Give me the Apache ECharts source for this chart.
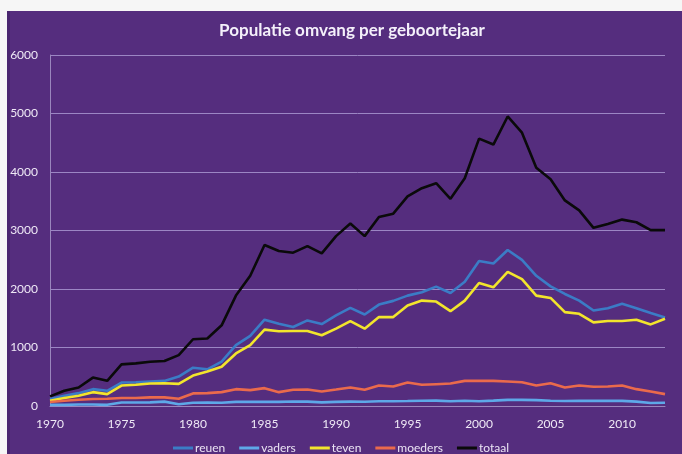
<!DOCTYPE html>
<html>
<head>
<meta charset="utf-8">
<script src="https://cdn.jsdelivr.net/npm/echarts@6/dist/echarts.min.js"></script>
<style>
html,body{margin:0;padding:0;background:#f6f6f6;}
#c{width:682px;height:454px;}
</style>
</head>
<body>
<div id="c"></div>
<script>
var years = [];
for (var y = 1970; y <= 2013; y++) years.push(String(y));

var reuen = [119,175,220,288,260,401,407,418,429,503,
  655,627,757,1040,1198,1475,1407,1350,1463,1401,
  1548,1678,1565,1734,1797,1887,1944,2040,1932,2124,
  2480,2435,2667,2497,2226,2045,1915,1802,1633,1672,
  1746,1672,1588,1514];
var vaders = [20,20,25,25,20,60,60,62,75,30,
  55,58,55,70,70,72,70,78,75,62,
  70,75,72,80,82,85,90,92,80,90,
  80,92,105,105,100,90,85,90,88,88,
  88,75,50,55];
var teven = [90,136,175,237,203,350,362,384,390,378,
  520,588,672,898,1040,1305,1277,1282,1282,1209,
  1322,1452,1322,1520,1520,1718,1802,1785,1621,1802,
  2102,2028,2294,2169,1887,1847,1605,1576,1429,1452,
  1452,1475,1395,1492];
var moeders = [68,90,107,119,124,136,136,147,147,124,
  215,220,237,288,271,305,237,277,282,249,
  282,316,277,350,333,401,362,373,384,429,
  429,429,418,407,350,390,316,350,328,333,
  350,288,249,203];
var totaal = [164,260,316,486,430,712,729,757,768,870,
  1141,1153,1379,1887,2226,2751,2650,2621,2734,2610,
  2904,3119,2904,3232,3288,3582,3723,3808,3542,3893,
  4571,4469,4949,4672,4073,3876,3514,3345,3045,3113,
  3186,3141,3006,3006];

var names = ['reuen','vaders','teven','moeders','totaal'];
var colors = ['#3b7cc6','#5ea8e8','#f2e52c','#ea6a4c','#0a0a0a'];
var datas = [reuen, vaders, teven, moeders, totaal];

var chart = echarts.init(document.getElementById('c'));
var font = 'Lato, "Open Sans", sans-serif';
chart.setOption({
  backgroundColor: '#f6f6f6',
  graphic: [{
    type: 'rect', left: 7, top: 11, z: -10,
    shape: {width: 675, height: 443},
    style: {fill: '#552d7e'}
  },{
    type: 'rect', left: 7, top: 11, z: -9,
    shape: {width: 3, height: 443},
    style: {fill: '#4a2670'}
  }],
  title: {
    text: 'Populatie omvang per geboortejaar',
    left: 347, textAlign: 'center', top: 17,
    textStyle: {color: '#f4f0fa', fontSize: 17, fontWeight: 'bold', fontFamily: font}
  },
  legend: {
    data: names,
    top: 437, left: 'center', padding: 5,
    icon: 'rect', itemWidth: 20, itemHeight: 3, itemGap: 14,
    textStyle: {color: '#ebe4f4', fontSize: 12, fontFamily: font, padding: [0,0,0,-3]}
  },
  grid: {left: 50, right: 17, top: 55, bottom: 48},
  xAxis: {
    type: 'category', data: years, boundaryGap: false,
    axisLine: {lineStyle: {color: '#9a86bd', width: 1}},
    axisTick: {show: false},
    axisLabel: {interval: 4, color: '#efe9f6', fontSize: 12, fontFamily: font, margin: 12}
  },
  yAxis: {
    type: 'value', min: 0, max: 6000, interval: 1000,
    axisLine: {show: true, lineStyle: {color: '#9a86bd', width: 1}},
    axisTick: {show: false},
    axisLabel: {color: '#efe9f6', fontSize: 12, fontFamily: font, margin: 12,
      formatter: function(v){ return String(v); }},
    splitLine: {lineStyle: {color: '#9c86c4', width: 1}}
  },
  series: names.map(function(n, i){
    return {
      name: n, type: 'line', data: datas[i],
      symbol: 'none', smooth: false,
      lineStyle: {color: colors[i], width: 2.6},
      itemStyle: {color: colors[i]},
      z: i === 4 ? 5 : 3
    };
  })
});
</script>
</body>
</html>
